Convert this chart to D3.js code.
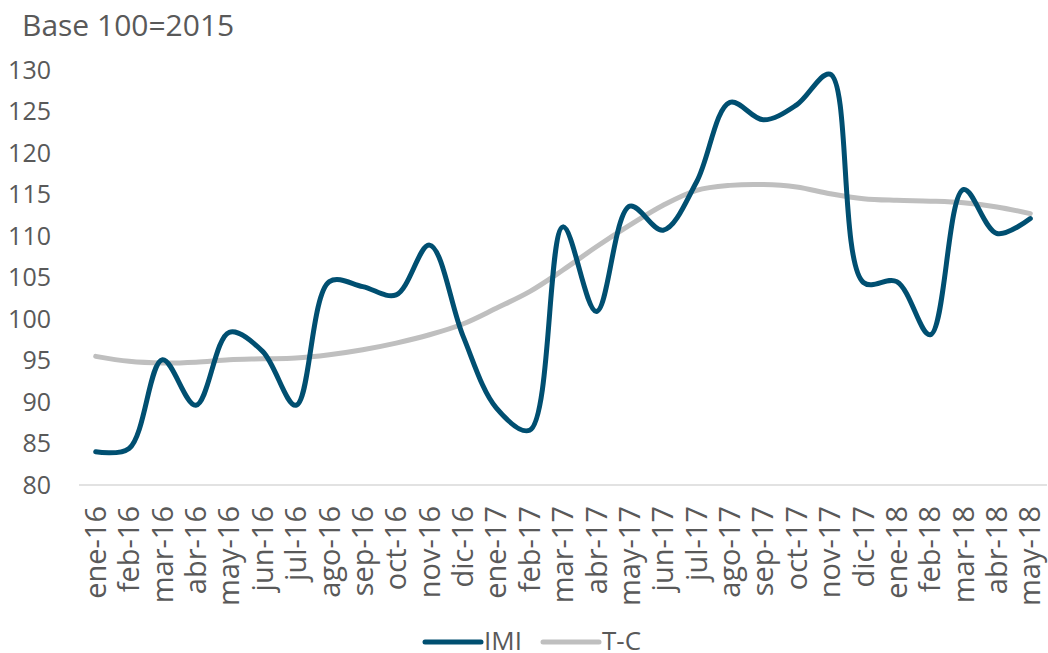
<!DOCTYPE html>
<html>
<head>
<meta charset="utf-8">
<script src="https://cdn.jsdelivr.net/npm/d3@7"></script>
<style>
  body { margin: 0; background: #fff; }
  svg text { font-family: "Open Sans", sans-serif; fill: #595959; }
</style>
</head>
<body>
<svg id="chart" width="1048" height="653"></svg>
<script>
// meses
var months = ["ene-16","feb-16","mar-16","abr-16","may-16","jun-16","jul-16","ago-16","sep-16","oct-16","nov-16","dic-16",
  "ene-17","feb-17","mar-17","abr-17","may-17","jun-17","jul-17","ago-17","sep-17","oct-17","nov-17","dic-17",
  "ene-18","feb-18","mar-18","abr-18","may-18"];

var imi = [84.0, 84.4, 95.1, 89.6, 98.4, 96.1, 89.6, 104.5, 103.9, 102.9, 108.9, 98.0,
  89.3, 86.6, 111.1, 100.9, 113.6, 110.7, 116.5, 126.1, 124.0, 125.8, 129.5, 104.4,
  104.5, 98.1, 115.6, 110.3, 112.1];

var tc = [95.5, 94.9, 94.7, 94.8, 95.1, 95.2, 95.3, 95.7, 96.3, 97.1, 98.1, 99.4,
  101.3, 103.3, 105.9, 108.7, 111.3, 113.7, 115.5, 116.1, 116.2, 115.9, 115.1, 114.5,
  114.3, 114.2, 114.0, 113.5, 112.7];

var yTicks = [80, 85, 90, 95, 100, 105, 110, 115, 120, 125, 130];

var svg = d3.select("#chart");
var plotLeft = 79, plotRight = 1047, plotTop = 70, plotBottom = 485;

var x = d3.scaleBand().domain(months).range([plotLeft, plotRight]);
var y = d3.scaleLinear().domain([80, 130]).range([plotBottom, plotTop]);

//Titolo
svg.append("text")
  .attr("x", 22).attr("y", 36)
  .style("font-size", "30px")
  .text("Base 100=2015");

// eje y (solo etiquetas)
svg.append("g").selectAll("text")
  .data(yTicks).enter().append("text")
  .attr("x", 51)
  .attr("y", function(d) { return y(d); })
  .attr("dy", "0.35em")
  .attr("text-anchor", "end")
  .style("font-size", "25px")
  .text(function(d) { return d; });

// eje x
svg.append("line")
  .attr("x1", plotLeft).attr("x2", plotRight)
  .attr("y1", plotBottom).attr("y2", plotBottom)
  .style("stroke", "#d9d9d9").style("stroke-width", "1.5px");

svg.append("g").selectAll("text")
  .data(months).enter().append("text")
  .attr("transform", function(d) {
    return "translate(" + (x(d) + x.bandwidth()/2) + "," + (plotBottom + 21) + ") rotate(-90)";
  })
  .attr("dy", "0.35em")
  .attr("text-anchor", "end")
  .style("font-size", "29px")
  .text(function(d) { return d; });

var line = d3.line()
  .x(function(d, i) { return x(months[i]) + x.bandwidth()/2; })
  .y(function(d) { return y(d); })
  .curve(d3.curveCatmullRom.alpha(0.5));

svg.append("path")
  .attr("d", line(tc))
  .attr("fill", "none")
  .style("stroke", "#bfbfbf")
  .style("stroke-width", "5px")
  .style("stroke-linecap", "round");

svg.append("path")
  .attr("d", line(imi))
  .attr("fill", "none")
  .style("stroke", "#004f71")
  .style("stroke-width", "5px")
  .style("stroke-linecap", "round");

// legenda
var legend = [{name: "IMI", color: "#004f71", x: 425}, {name: "T-C", color: "#bfbfbf", x: 543}];
var lg = svg.append("g").selectAll("g").data(legend).enter().append("g");
lg.append("line")
  .attr("x1", function(d) { return d.x; })
  .attr("x2", function(d) { return d.x + 56; })
  .attr("y1", 642).attr("y2", 642)
  .style("stroke", function(d) { return d.color; })
  .style("stroke-width", "5px")
  .style("stroke-linecap", "round");
lg.append("text")
  .attr("x", function(d) { return d.x + 59; })
  .attr("y", 650)
  .style("font-size", "26px")
  .text(function(d) { return d.name; });
</script>
</body>
</html>
